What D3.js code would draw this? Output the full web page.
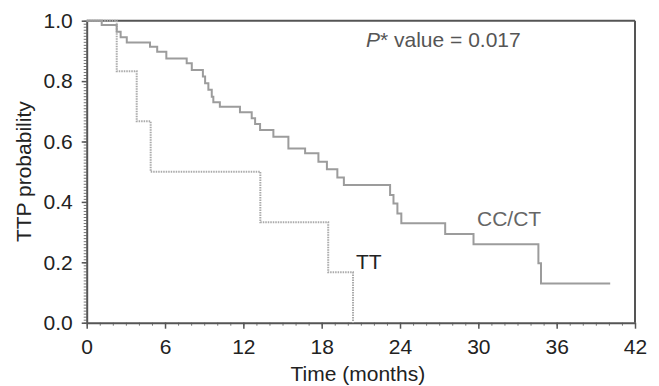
<!DOCTYPE html>
<html>
<head>
<meta charset="utf-8">
<script src="https://cdn.jsdelivr.net/npm/d3@7"></script>
<style>
  html, body { margin: 0; padding: 0; background: #fff; }
  svg { display: block; font-family: "Liberation Sans", Arial, Helvetica, sans-serif; }
</style>
</head>
<body>
<svg id="chart" width="659" height="386"></svg>
<script>
// ---- Data ----
// CC/CT Kaplan–Meier curve: times of drops (months) and survival after each drop
const ccTimes = [0, 1.15, 2.3, 2.6, 3.07, 4.85, 5.4, 6.1, 7.66, 8.05, 8.9, 9.07, 9.32, 9.58, 9.7, 10.2,
                 11.74, 12.64, 12.9, 13.28, 14.3, 15.45, 16.73, 17.75, 18.4, 19.2, 19.7,
                 23.24, 23.5, 23.8, 24.1, 27.46, 29.63, 34.6, 34.8, 40.1];
const ccSurv  = [1.0, 0.986, 0.963, 0.945, 0.928, 0.914, 0.897, 0.875, 0.859, 0.837, 0.815, 0.793, 0.771, 0.748, 0.73, 0.715,
                 0.697, 0.677, 0.658, 0.638, 0.616, 0.577, 0.561, 0.533, 0.508, 0.481, 0.456,
                 0.423, 0.395, 0.362, 0.329, 0.294, 0.26, 0.197, 0.13, 0.13];
// TT curve
const ttTimes = [0, 2.3, 3.83, 4.9, 13.3, 18.5, 20.4];
const ttSurv  = [1.0, 0.833, 0.667, 0.5, 0.333, 0.167, 0.0];

const xTicks = [0, 6, 12, 18, 24, 30, 36, 42];
const yTicks = [0, 0.2, 0.4, 0.6, 0.8, 1.0];
const xLabel = "Time (months)";
const yLabel = "TTP probability";
const seriesLabels = ["CC/CT", "TT"];

// ---- Layout ----
const svg = d3.select("#chart");
const x = d3.scaleLinear().domain([0, 42]).range([86.7, 635]);
const y = d3.scaleLinear().domain([0, 1]).range([322.7, 20.7]);
const frameColor = "#555";
const fontSize = 21;

// frame top & right
svg.append("line").attr("x1", x(0)).attr("x2", x(42)).attr("y1", y(1)).attr("y2", y(1))
  .attr("stroke", frameColor).attr("stroke-width", 2);
svg.append("line").attr("x1", x(42)).attr("x2", x(42)).attr("y1", y(1)).attr("y2", y(0))
  .attr("stroke", frameColor).attr("stroke-width", 2);

// minor ticks
const xMinor = svg.append("g").attr("transform", `translate(0,${y(0)})`)
  .call(d3.axisBottom(x).tickValues(d3.range(0, 43, 1)).tickSize(3).tickFormat(""));
const yMinor = svg.append("g").attr("transform", `translate(${x(0)},0)`)
  .call(d3.axisLeft(y).tickValues(d3.range(0, 101, 1).map(d => d / 100)).tickSize(3).tickFormat(""));
[xMinor, yMinor].forEach(g => {
  g.select(".domain").remove();
  g.selectAll("line").attr("stroke", "#777").attr("stroke-width", 1);
});

// major axes
const xAxis = svg.append("g").attr("transform", `translate(0,${y(0)})`)
  .call(d3.axisBottom(x).tickValues(xTicks).tickSize(6).tickPadding(10).tickSizeOuter(0));
const yAxis = svg.append("g").attr("transform", `translate(${x(0)},0)`)
  .call(d3.axisLeft(y).tickValues(yTicks).tickSize(5).tickPadding(9).tickSizeOuter(0).tickFormat(d3.format(".1f")));
[xAxis, yAxis].forEach(g => {
  g.select(".domain").attr("stroke", frameColor).attr("stroke-width", 2);
  g.selectAll(".tick line").attr("stroke", frameColor).attr("stroke-width", 1.5);
  g.selectAll("text").attr("font-size", fontSize).attr("fill", "#222")
    .attr("font-family", "Liberation Sans, Arial, sans-serif");
});

// axis titles
svg.append("text").attr("x", (x(0) + x(42)) / 2 - 3).attr("y", 381).attr("text-anchor", "middle")
  .attr("font-size", fontSize).attr("fill", "#222").text(xLabel);
svg.append("text").attr("transform", `translate(31,${(y(0) + y(1)) / 2}) rotate(-90)`)
  .attr("text-anchor", "middle").attr("font-size", fontSize).attr("fill", "#222").text(yLabel);

// curves
const line = d3.line().x(d => x(d[0])).y(d => y(d[1])).curve(d3.curveStepAfter);
const ccData = ccTimes.map((t, i) => [t, ccSurv[i]]);
const ttData = ttTimes.map((t, i) => [t, ttSurv[i]]);

svg.append("path").datum(ttData).attr("d", line).attr("fill", "none")
  .attr("stroke", "#aaa").attr("stroke-width", 2).attr("stroke-dasharray", "1.5,1");
svg.append("path").datum(ccData).attr("d", line).attr("fill", "none")
  .attr("stroke", "#9c9c9c").attr("stroke-width", 2);

// labels
svg.append("text").attr("x", 477).attr("y", 226).attr("font-size", fontSize).attr("fill", "#666").text(seriesLabels[0]);
svg.append("text").attr("x", 356).attr("y", 269).attr("font-size", fontSize).attr("fill", "#222").text(seriesLabels[1]);

const pText = svg.append("text").attr("x", 366).attr("y", 46.5).attr("font-size", fontSize).attr("fill", "#555");
pText.append("tspan").attr("font-style", "italic").text("P");
pText.append("tspan").text("* value = 0.017");
</script>
</body>
</html>
